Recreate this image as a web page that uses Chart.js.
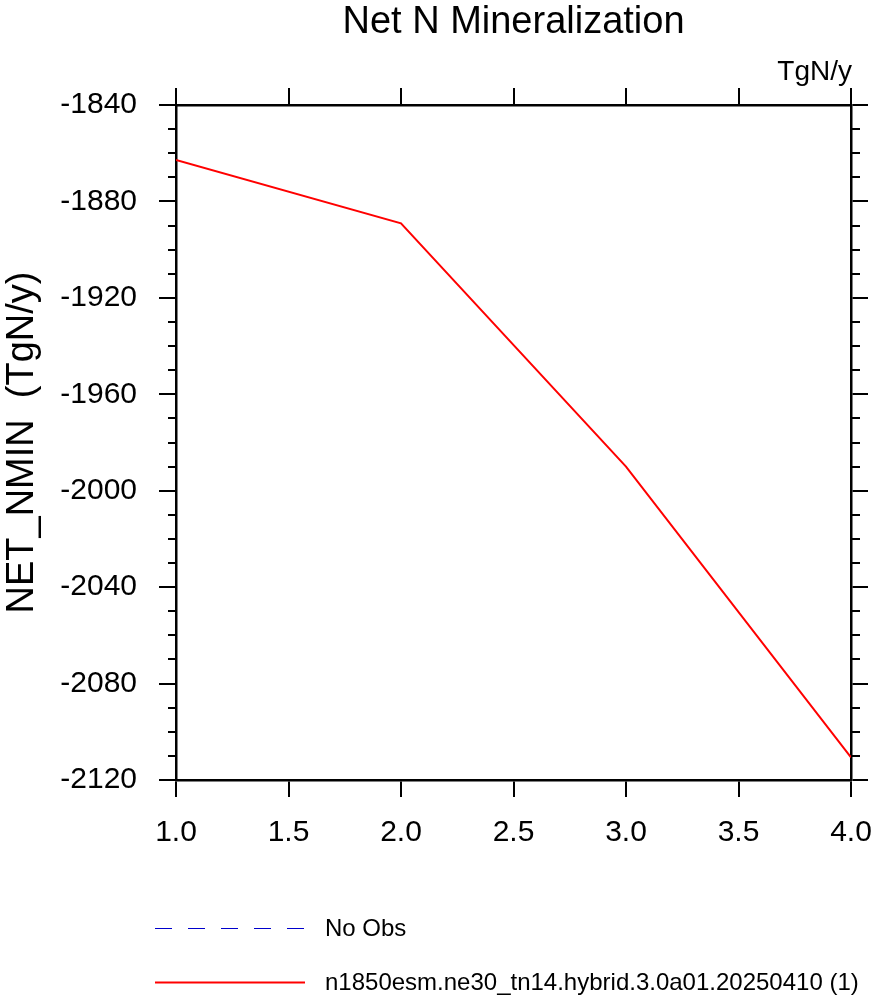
<!DOCTYPE html>
<html>
<head>
<meta charset="utf-8">
<script src="https://cdn.jsdelivr.net/npm/chart.js@4.4.1/dist/chart.umd.min.js"></script>
<style>
html,body{margin:0;padding:0;background:#fff;}
#wrap{width:873px;height:995px;}
</style>
</head>
<body>
<div id="wrap"><canvas id="c" width="873" height="995"></canvas></div>
<script>
const xValues = [1, 2, 3, 4];
const modelValues = [-1862.8, -1889.1, -1990.0, -2110.6];
const obsValues = [];
const xTickLabels = ['1.0', '1.5', '2.0', '2.5', '3.0', '3.5', '4.0'];
const yTickLabels = ['-1840', '-1880', '-1920', '-1960', '-2000', '-2040', '-2080', '-2120'];
const titleText = 'Net N Mineralization';
const unitsText = 'TgN/y';
const yAxisTitle = 'NET_NMIN  (TgN/y)';
const seriesNames = ['No Obs', 'n1850esm.ne30_tn14.hybrid.3.0a01.20250410 (1)'];

const FONT = '"Liberation Sans", Arial, Helvetica, sans-serif';

const gridOpts = {
  drawOnChartArea: false,
  drawTicks: true,
  tickLength: 17,
  tickWidth: 2,
  lineWidth: 2,
  tickColor: '#000',
  color: '#000'
};
const borderOpts = { display: true, color: '#000', width: 2.5 };

function fixH(h) {
  return s => { s.height = h; s.paddingLeft = 0; s.paddingRight = 0; };
}
function fixW(w) {
  return s => { s.width = w; s.paddingTop = 0; s.paddingBottom = 0; };
}

const decorPlugin = {
  id: 'decor',
  afterDraw(chart) {
    const ctx = chart.ctx;
    const ca = chart.chartArea;
    const y = chart.scales.y;
    ctx.save();
    // minor y ticks, both sides
    ctx.strokeStyle = '#000';
    ctx.lineWidth = 2;
    for (let v = y.min; v <= y.max + 0.001; v += 10) {
      if (Math.abs(v % 40) < 0.001) continue;
      const py = Math.round(y.getPixelForValue(v));
      ctx.beginPath();
      ctx.moveTo(ca.left - 8, py);
      ctx.lineTo(ca.left, py);
      ctx.moveTo(ca.right, py);
      ctx.lineTo(ca.right + 9, py);
      ctx.stroke();
    }
    // title
    ctx.fillStyle = '#000';
    ctx.font = '38px ' + FONT;
    ctx.textAlign = 'center';
    ctx.textBaseline = 'alphabetic';
    ctx.fillText(titleText, (ca.left + ca.right) / 2, 33);
    // units
    ctx.font = '28px ' + FONT;
    ctx.textAlign = 'right';
    ctx.fillText(unitsText, ca.right + 1, 80);
    // legend
    const rows = [928, 982];
    chart.data.datasets.forEach((ds, i) => {
      const ly = rows[i] + 0.5;
      ctx.beginPath();
      ctx.strokeStyle = ds.borderColor;
      ctx.lineWidth = ds.borderWidth;
      ctx.setLineDash(ds.borderDash || []);
      ctx.moveTo(155, ly);
      ctx.lineTo(305, ly);
      ctx.stroke();
      ctx.setLineDash([]);
      ctx.fillStyle = '#000';
      ctx.font = '24px ' + FONT;
      ctx.textAlign = 'left';
      ctx.textBaseline = 'middle';
      ctx.fillText(ds.label, 325, rows[i] + 1);
    });
    ctx.restore();
  }
};

new Chart(document.getElementById('c'), {
  type: 'line',
  data: {
    datasets: [
      {
        label: seriesNames[0],
        data: obsValues.map((v, i) => ({ x: xValues[i], y: v })),
        borderColor: '#0000cc',
        borderWidth: 1,
        borderDash: [17, 16],
        pointRadius: 0
      },
      {
        label: seriesNames[1],
        data: modelValues.map((v, i) => ({ x: xValues[i], y: v })),
        borderColor: '#ff0000',
        borderWidth: 2,
        pointRadius: 0,
        tension: 0
      }
    ]
  },
  options: {
    responsive: false,
    animation: false,
    devicePixelRatio: 1,
    layout: { padding: 0, autoPadding: false },
    plugins: { legend: { display: false }, title: { display: false }, tooltip: { enabled: false } },
    scales: {
      x: {
        type: 'linear', position: 'bottom', min: 1, max: 4,
        ticks: {
          stepSize: 0.5, color: '#000', padding: 18,
          font: { size: 30, family: FONT },
          maxRotation: 0, autoSkip: false,
          callback: (v, i) => xTickLabels[i]
        },
        grid: gridOpts, border: borderOpts,
        afterFit: fixH(995 - 780)
      },
      x2: {
        type: 'linear', position: 'top', min: 1, max: 4,
        ticks: { stepSize: 0.5, display: false },
        grid: gridOpts, border: borderOpts,
        afterFit: fixH(105)
      },
      y: {
        type: 'linear', position: 'left', min: -2120, max: -1840,
        ticks: {
          stepSize: 40, color: '#000', padding: 22,
          font: { size: 30, family: FONT },
          callback: (v, i, ticks) => yTickLabels[ticks.length - 1 - i]
        },
        title: {
          display: true, text: yAxisTitle, color: '#000',
          font: { size: 38, family: FONT }, padding: { top: 0, bottom: 0 }
        },
        grid: gridOpts, border: borderOpts,
        afterFit: fixW(176)
      },
      y2: {
        type: 'linear', position: 'right', min: -2120, max: -1840,
        ticks: { stepSize: 40, display: false },
        grid: gridOpts, border: borderOpts,
        afterFit: fixW(873 - 851)
      }
    }
  },
  plugins: [decorPlugin]
});
</script>
</body>
</html>
